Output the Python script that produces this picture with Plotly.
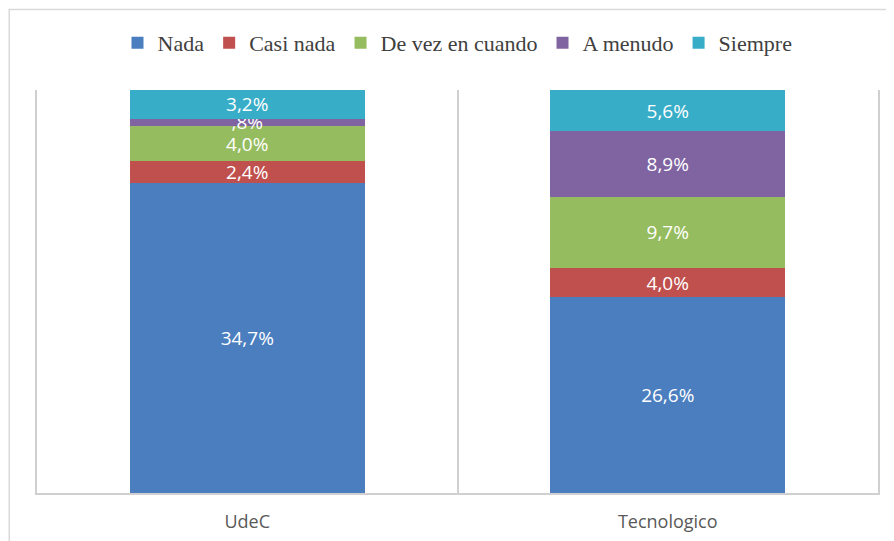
import plotly.graph_objects as go

categories = ["UdeC", "Tecnologico"]
series_names = ["Nada", "Casi nada", "De vez en cuando", "A menudo", "Siempre"]
nada = [34.7, 26.6]
casi_nada = [2.4, 4.0]
de_vez = [4.0, 9.7]
a_menudo = [0.8, 8.9]
siempre = [3.2, 5.6]
labels = {
    "Nada": ["34,7%", "26,6%"],
    "Casi nada": ["2,4%", "4,0%"],
    "De vez en cuando": ["4,0%", "9,7%"],
    "A menudo": [",8%", "8,9%"],
    "Siempre": ["3,2%", "5,6%"],
}
values = [nada, casi_nada, de_vez, a_menudo, siempre]
colors = ["#4A7EBF", "#C0504D", "#95BC5E", "#8064A2", "#37ADC8"]

x_pos = list(range(len(categories)))

fig = go.Figure()
for name, vals, col in zip(series_names, values, colors):
    fig.add_trace(go.Bar(
        x=x_pos, y=vals, name=name,
        marker=dict(color=col, line=dict(width=0)),
        text=labels[name], textposition="inside", insidetextanchor="middle",
        textfont=dict(family="Open Sans", size=19, color="white"),
        hoverinfo="skip",
    ))

fig.update_layout(
    barmode="stack", barnorm="percent", bargap=0.44,
    width=886, height=533,
    margin=dict(l=29, r=16, t=82, b=48, autoexpand=False),
    paper_bgcolor="white", plot_bgcolor="white",
    uniformtext=dict(minsize=19, mode="show"),
    showlegend=True,
    legend=dict(orientation="h", x=0.5, xanchor="center", y=1.117, yanchor="middle",
                font=dict(family="Liberation Serif", size=22, color="#404040"),
                traceorder="normal", itemclick=False),
    xaxis=dict(
        tickmode="array", tickvals=x_pos, ticktext=categories,
        range=[-0.5, len(categories) - 0.5],
        showgrid=False, zeroline=False, automargin=False,
        showline=True, linecolor="#D0D0D0", linewidth=1.5,
        ticks="", ticklabelstandoff=12,
        tickfont=dict(family="Open Sans", size=18, color="#595959"),
        minor=dict(tickmode="array", tickvals=[0.5], showgrid=True,
                   gridcolor="#D0D0D0", gridwidth=1.5, ticks=""),
    ),
    yaxis=dict(range=[0, 100], showgrid=False, zeroline=False, showticklabels=False,
               automargin=False,
               showline=True, mirror=True, linecolor="#D0D0D0", linewidth=1.5, ticks=""),
    shapes=[dict(type="rect", xref="paper", yref="paper",
                 x0=-0.033, x1=1.03, y0=-0.15, y1=1.2,
                 line=dict(color="#D9D9D9", width=1.5), fillcolor="rgba(0,0,0,0)", layer="below")],
)

fig.write_html("out.html")
